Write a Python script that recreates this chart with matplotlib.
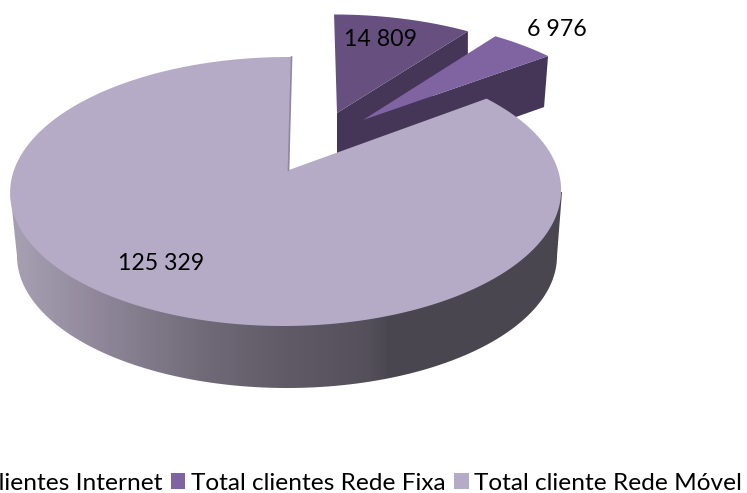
import numpy as np
import matplotlib
matplotlib.use("Agg")
import matplotlib.pyplot as plt
from matplotlib.colors import LinearSegmentedColormap
from matplotlib.patches import Polygon, Patch

# datos
categorias = ["Total clientes Internet", "Total clientes Rede Fixa", "Total cliente Rede Móvel"]
valores = [14809, 6976, 125329]
etiquetas = ["14 809", "6 976", "125 329"]

colores = ["#67507F", "#8064A2", "#B5ABC6"]
color_lado = "#453557"

plt.rcParams["font.family"] = ["Lato", "DejaVu Sans"]

# todo el dibujo va en pixeles de la imagen
fig = plt.figure(figsize=(7.47, 4.93), dpi=100)
ax = fig.add_axes([0, 0, 1, 1])
ax.set_xlim(0, 747)
ax.set_ylim(493, 0)
ax.axis("off")

RX, RY = 275.5, 134.5


def borde(vertice, centro, a1, a2, sesgo, k=1.0, n=80):
    # se lanza un rayo desde el vertice hasta la elipse para cada angulo
    # k aplasta la direccion del rayo (efecto de la perspectiva)
    ang = np.radians(np.linspace(a1, a2, n))
    px = (vertice[0] - centro[0]) / RX
    py = (vertice[1] - centro[1]) / RY
    ux, uy = np.sin(ang), -np.cos(ang) * k
    uu = ux ** 2 + uy ** 2
    pu = px * ux + py * uy
    t = (-pu + np.sqrt(pu ** 2 - uu * (px ** 2 + py ** 2 - 1))) / uu
    x = vertice[0] + t * ux * RX
    y = vertice[1] + t * uy * RY
    x = x + sesgo * (vertice[1] - y)
    return np.column_stack([x, y])


# angulos de cada porcion, desde las 12 en sentido horario
acum = np.cumsum([0] + valores) / sum(valores) * 360

# porcion Internet
v1, c1 = (337, 113), (337, 149)
arco1 = borde(v1, c1, acum[0], acum[1], -0.03, k=0.92)
ax.add_patch(Polygon([v1, arco1[-1], arco1[-1] + [0, 40], (v1[0], v1[1] + 50)], fc=color_lado, ec="none"))
ax.add_patch(Polygon(np.vstack([[v1], arco1]), fc=colores[0], ec="none"))

# porcion Rede Fixa
v2, c2 = (363, 120), (355, 152)
arco2 = borde(v2, c2, acum[1], acum[2], 0, k=0.95)
ax.add_patch(Polygon([v2, arco2[-1], arco2[-1] + [-4, 51], (v2[0], v2[1] + 51)], fc=color_lado, ec="none"))
ax.add_patch(Polygon(np.vstack([[v2], arco2]), fc=colores[1], ec="none"))

# costado de la porcion Rede Movel con degradado
ang = np.radians(np.linspace(180, 0, 200))
lado_x = 287 + 270 * np.cos(ang)
lado_y = 256 + 132 * np.sin(ang)
lado = np.vstack([[(10.5, 195)], np.column_stack([lado_x, lado_y]), [(562, 192)]])
pos = [0, 20 / 747, 100 / 747, 200 / 747, 290 / 747, 370 / 747, 390 / 747, 1]
cols = ["#A59DB0", "#A59DB0", "#8F8799", "#716B79", "#5F5A66", "#54505A", "#4A4650", "#4A4650"]
cmap = LinearSegmentedColormap.from_list("lado", list(zip(pos, cols)))
img = ax.imshow(np.linspace(0, 1, 747).reshape(1, -1), cmap=cmap, extent=(0, 747, 493, 0), aspect="auto", zorder=2)
parche = Polygon(lado, fc="none", ec="none", transform=ax.transData)
ax.add_patch(parche)
img.set_clip_path(parche)
ax.set_xlim(0, 747)
ax.set_ylim(493, 0)

# cara superior de la porcion Rede Movel
v3, c3 = (289, 170), (286, 191.5)
arco3 = borde(v3, c3, acum[2], acum[3], 0.018, n=400)
ax.add_patch(Polygon(np.vstack([[v3], arco3]), fc=colores[2], ec="none", zorder=3))
ax.plot([arco3[-1][0] + 0.5, v3[0] - 0.5], [arco3[-1][1], v3[1]], color="#8F86A2", lw=1.2, zorder=3)

# etiquetas de datos
pos_etq = [(381, 39), (557, 30), (161, 263)]
for txt, p in zip(etiquetas, pos_etq):
    ax.text(p[0], p[1], txt, fontsize=16.7, color="black", ha="center", va="center", zorder=5)

# leyenda (la primera entrada queda cortada por el borde, igual que en el original)
manejadores = [Patch(fc=c, ec="none") for c in colores]
ax.legend(manejadores, categorias, ncol=3, frameon=False, fontsize=17.6, loc="center",
          bbox_to_anchor=(324, 483), bbox_transform=ax.transData, handlelength=0.59, handleheight=0.59,
          handletextpad=0.24, columnspacing=0.34, borderpad=0, borderaxespad=0)

fig.savefig("out.png", dpi=100)
